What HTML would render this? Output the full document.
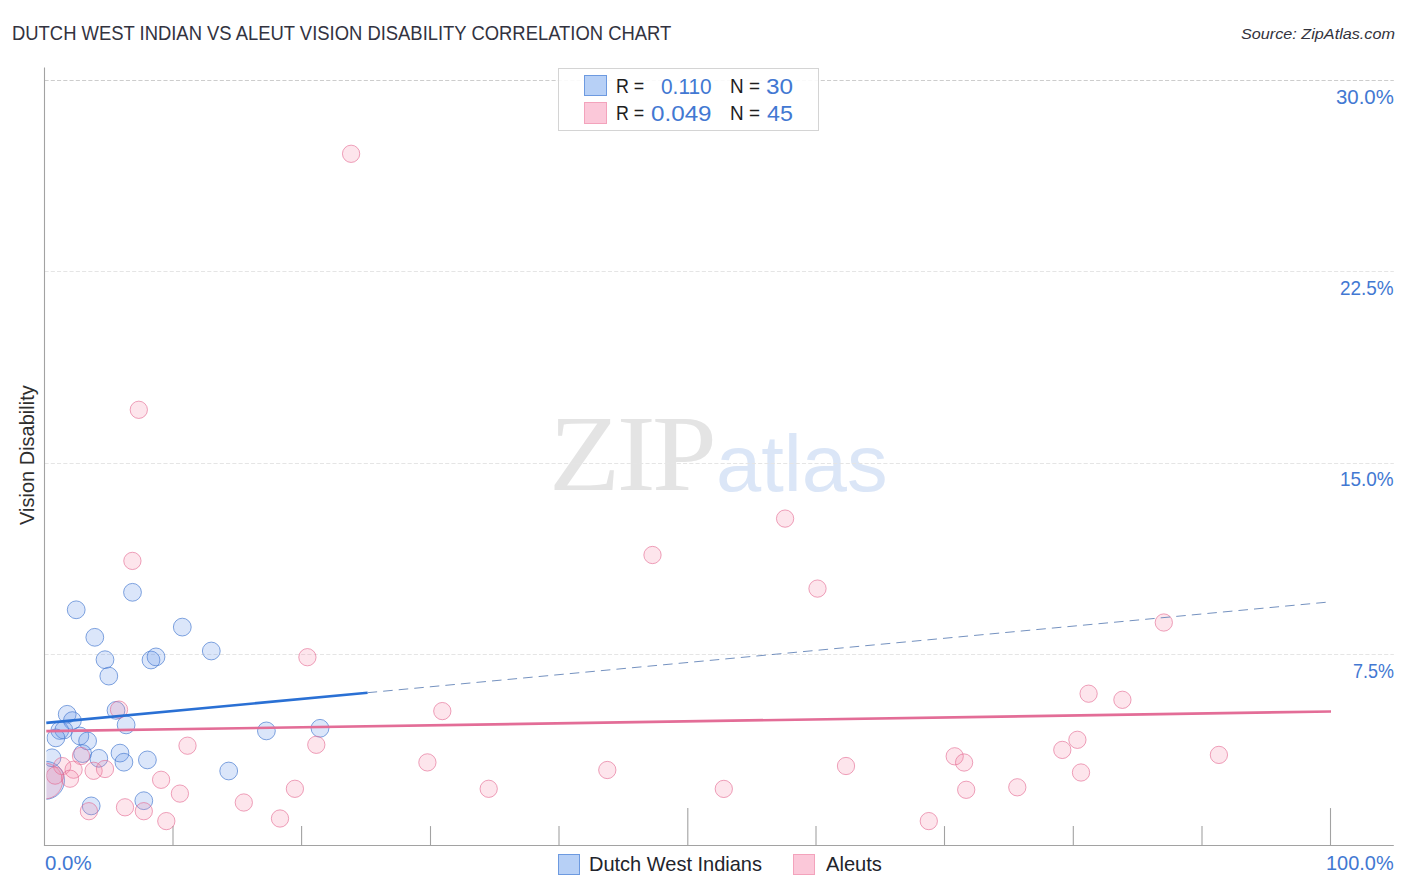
<!DOCTYPE html>
<html><head><meta charset="utf-8"><title>Dutch West Indian vs Aleut Vision Disability Correlation Chart</title>
<style>
html,body{margin:0;padding:0;background:#fff;}
body{width:1406px;height:892px;position:relative;overflow:hidden;font-family:"Liberation Sans",sans-serif;}
.t{position:absolute;white-space:nowrap;line-height:1;transform-origin:0 0;}
svg{position:absolute;left:0;top:0;}
#leg{position:absolute;left:558.1px;top:67.9px;width:261px;height:63px;border:1px solid #d4d4d4;background:rgba(255,255,255,0.9);box-sizing:border-box;}
.sw{position:absolute;box-sizing:border-box;}
.swb{background:#b7d0f6;border:1px solid #6d9ae0;}
.swp{background:#fbc8d9;border:1px solid #f3a3bc;}
</style></head><body>
<div class="t" style="left:548.62px;top:398.93px;font-size:108.98px;font-family:'Liberation Serif',serif;letter-spacing:-0.03em;color:#e4e4e4;transform:scaleX(1.0705)">ZIP</div>
<div class="t" style="left:716.15px;top:423.82px;font-size:79.86px;color:#dbe6f7;transform:scaleX(1.0177)">atlas</div>
<svg width="1406" height="892" viewBox="0 0 1406 892" style="position:absolute;left:0;top:0">
<defs><clipPath id="plot"><rect x="46.4" y="60" width="1348" height="785"/></clipPath></defs>
<line x1="44.5" y1="80.5" x2="1393.8" y2="80.5" stroke="#cdcdcd" stroke-width="1" stroke-dasharray="4.1,2.16"/>
<line x1="44.5" y1="271.5" x2="1393.8" y2="271.5" stroke="#e5e5e5" stroke-width="1" stroke-dasharray="4.1,2.16"/>
<line x1="44.5" y1="463.5" x2="1393.8" y2="463.5" stroke="#e5e5e5" stroke-width="1" stroke-dasharray="4.1,2.16"/>
<line x1="44.5" y1="654.5" x2="1393.8" y2="654.5" stroke="#e5e5e5" stroke-width="1" stroke-dasharray="4.1,2.16"/>
<line x1="44.5" y1="67.6" x2="44.5" y2="845.5" stroke="#a2a2a2" stroke-width="1.1"/>
<line x1="43.9" y1="845.5" x2="1393.8" y2="845.5" stroke="#a2a2a2" stroke-width="1.1"/>
<line x1="173.0" y1="826.1" x2="173.0" y2="845.5" stroke="#a2a2a2" stroke-width="1.1"/>
<line x1="301.6" y1="826.1" x2="301.6" y2="845.5" stroke="#a2a2a2" stroke-width="1.1"/>
<line x1="430.5" y1="826.1" x2="430.5" y2="845.5" stroke="#a2a2a2" stroke-width="1.1"/>
<line x1="559.0" y1="826.1" x2="559.0" y2="845.5" stroke="#a2a2a2" stroke-width="1.1"/>
<line x1="687.8" y1="808.1" x2="687.8" y2="845.5" stroke="#a2a2a2" stroke-width="1.1"/>
<line x1="816.0" y1="826.1" x2="816.0" y2="845.5" stroke="#a2a2a2" stroke-width="1.1"/>
<line x1="944.5" y1="826.1" x2="944.5" y2="845.5" stroke="#a2a2a2" stroke-width="1.1"/>
<line x1="1073.3" y1="826.1" x2="1073.3" y2="845.5" stroke="#a2a2a2" stroke-width="1.1"/>
<line x1="1202.0" y1="826.1" x2="1202.0" y2="845.5" stroke="#a2a2a2" stroke-width="1.1"/>
<line x1="1330.5" y1="808.1" x2="1330.5" y2="845.5" stroke="#a2a2a2" stroke-width="1.1"/>
<g clip-path="url(#plot)">
<circle cx="45.5" cy="780.3" r="19" fill="rgba(100,150,235,0.235)" stroke="rgba(75,125,210,0.70)" stroke-width="1"/>
<circle cx="132.5" cy="592.3" r="8.9" fill="rgba(100,150,235,0.235)" stroke="rgba(75,125,210,0.70)" stroke-width="1"/>
<circle cx="76.2" cy="609.8" r="8.9" fill="rgba(100,150,235,0.235)" stroke="rgba(75,125,210,0.70)" stroke-width="1"/>
<circle cx="94.8" cy="637.3" r="8.9" fill="rgba(100,150,235,0.235)" stroke="rgba(75,125,210,0.70)" stroke-width="1"/>
<circle cx="182.3" cy="627.1" r="8.9" fill="rgba(100,150,235,0.235)" stroke="rgba(75,125,210,0.70)" stroke-width="1"/>
<circle cx="211.3" cy="651.0" r="8.9" fill="rgba(100,150,235,0.235)" stroke="rgba(75,125,210,0.70)" stroke-width="1"/>
<circle cx="105.0" cy="659.7" r="8.9" fill="rgba(100,150,235,0.235)" stroke="rgba(75,125,210,0.70)" stroke-width="1"/>
<circle cx="108.8" cy="676.1" r="8.9" fill="rgba(100,150,235,0.235)" stroke="rgba(75,125,210,0.70)" stroke-width="1"/>
<circle cx="151.0" cy="660.0" r="8.9" fill="rgba(100,150,235,0.235)" stroke="rgba(75,125,210,0.70)" stroke-width="1"/>
<circle cx="156.0" cy="656.9" r="8.9" fill="rgba(100,150,235,0.235)" stroke="rgba(75,125,210,0.70)" stroke-width="1"/>
<circle cx="67.2" cy="714.3" r="8.9" fill="rgba(100,150,235,0.235)" stroke="rgba(75,125,210,0.70)" stroke-width="1"/>
<circle cx="72.4" cy="720.6" r="8.9" fill="rgba(100,150,235,0.235)" stroke="rgba(75,125,210,0.70)" stroke-width="1"/>
<circle cx="116.0" cy="710.4" r="8.9" fill="rgba(100,150,235,0.235)" stroke="rgba(75,125,210,0.70)" stroke-width="1"/>
<circle cx="126.1" cy="724.9" r="8.9" fill="rgba(100,150,235,0.235)" stroke="rgba(75,125,210,0.70)" stroke-width="1"/>
<circle cx="59.8" cy="730.5" r="8.9" fill="rgba(100,150,235,0.235)" stroke="rgba(75,125,210,0.70)" stroke-width="1"/>
<circle cx="63.8" cy="730.0" r="8.9" fill="rgba(100,150,235,0.235)" stroke="rgba(75,125,210,0.70)" stroke-width="1"/>
<circle cx="55.9" cy="737.9" r="8.9" fill="rgba(100,150,235,0.235)" stroke="rgba(75,125,210,0.70)" stroke-width="1"/>
<circle cx="79.9" cy="736.0" r="8.9" fill="rgba(100,150,235,0.235)" stroke="rgba(75,125,210,0.70)" stroke-width="1"/>
<circle cx="87.6" cy="741.0" r="8.9" fill="rgba(100,150,235,0.235)" stroke="rgba(75,125,210,0.70)" stroke-width="1"/>
<circle cx="82.6" cy="753.6" r="8.9" fill="rgba(100,150,235,0.235)" stroke="rgba(75,125,210,0.70)" stroke-width="1"/>
<circle cx="98.8" cy="758.3" r="8.9" fill="rgba(100,150,235,0.235)" stroke="rgba(75,125,210,0.70)" stroke-width="1"/>
<circle cx="120.0" cy="753.1" r="8.9" fill="rgba(100,150,235,0.235)" stroke="rgba(75,125,210,0.70)" stroke-width="1"/>
<circle cx="123.9" cy="762.2" r="8.9" fill="rgba(100,150,235,0.235)" stroke="rgba(75,125,210,0.70)" stroke-width="1"/>
<circle cx="147.4" cy="759.9" r="8.9" fill="rgba(100,150,235,0.235)" stroke="rgba(75,125,210,0.70)" stroke-width="1"/>
<circle cx="52.0" cy="757.8" r="8.9" fill="rgba(100,150,235,0.235)" stroke="rgba(75,125,210,0.70)" stroke-width="1"/>
<circle cx="228.7" cy="771.0" r="8.9" fill="rgba(100,150,235,0.235)" stroke="rgba(75,125,210,0.70)" stroke-width="1"/>
<circle cx="91.2" cy="805.9" r="8.9" fill="rgba(100,150,235,0.235)" stroke="rgba(75,125,210,0.70)" stroke-width="1"/>
<circle cx="143.8" cy="800.7" r="8.9" fill="rgba(100,150,235,0.235)" stroke="rgba(75,125,210,0.70)" stroke-width="1"/>
<circle cx="266.4" cy="730.9" r="8.9" fill="rgba(100,150,235,0.235)" stroke="rgba(75,125,210,0.70)" stroke-width="1"/>
<circle cx="320.0" cy="728.3" r="8.9" fill="rgba(100,150,235,0.235)" stroke="rgba(75,125,210,0.70)" stroke-width="1"/>
<circle cx="44.5" cy="781.0" r="18" fill="rgba(245,130,165,0.21)" stroke="rgba(228,105,145,0.62)" stroke-width="1"/>
<circle cx="351.1" cy="153.8" r="8.65" fill="rgba(245,130,165,0.21)" stroke="rgba(228,105,145,0.62)" stroke-width="1"/>
<circle cx="138.8" cy="409.8" r="8.65" fill="rgba(245,130,165,0.21)" stroke="rgba(228,105,145,0.62)" stroke-width="1"/>
<circle cx="132.4" cy="560.9" r="8.65" fill="rgba(245,130,165,0.21)" stroke="rgba(228,105,145,0.62)" stroke-width="1"/>
<circle cx="307.4" cy="657.2" r="8.65" fill="rgba(245,130,165,0.21)" stroke="rgba(228,105,145,0.62)" stroke-width="1"/>
<circle cx="442.3" cy="711.1" r="8.65" fill="rgba(245,130,165,0.21)" stroke="rgba(228,105,145,0.62)" stroke-width="1"/>
<circle cx="316.3" cy="744.8" r="8.65" fill="rgba(245,130,165,0.21)" stroke="rgba(228,105,145,0.62)" stroke-width="1"/>
<circle cx="427.4" cy="762.4" r="8.65" fill="rgba(245,130,165,0.21)" stroke="rgba(228,105,145,0.62)" stroke-width="1"/>
<circle cx="294.9" cy="788.8" r="8.65" fill="rgba(245,130,165,0.21)" stroke="rgba(228,105,145,0.62)" stroke-width="1"/>
<circle cx="488.7" cy="788.8" r="8.65" fill="rgba(245,130,165,0.21)" stroke="rgba(228,105,145,0.62)" stroke-width="1"/>
<circle cx="243.8" cy="802.5" r="8.65" fill="rgba(245,130,165,0.21)" stroke="rgba(228,105,145,0.62)" stroke-width="1"/>
<circle cx="280.0" cy="818.5" r="8.65" fill="rgba(245,130,165,0.21)" stroke="rgba(228,105,145,0.62)" stroke-width="1"/>
<circle cx="119.0" cy="709.6" r="8.65" fill="rgba(245,130,165,0.21)" stroke="rgba(228,105,145,0.62)" stroke-width="1"/>
<circle cx="187.5" cy="745.7" r="8.65" fill="rgba(245,130,165,0.21)" stroke="rgba(228,105,145,0.62)" stroke-width="1"/>
<circle cx="81.0" cy="756.0" r="8.65" fill="rgba(245,130,165,0.21)" stroke="rgba(228,105,145,0.62)" stroke-width="1"/>
<circle cx="62.2" cy="766.1" r="8.65" fill="rgba(245,130,165,0.21)" stroke="rgba(228,105,145,0.62)" stroke-width="1"/>
<circle cx="73.6" cy="769.7" r="8.65" fill="rgba(245,130,165,0.21)" stroke="rgba(228,105,145,0.62)" stroke-width="1"/>
<circle cx="93.6" cy="770.8" r="8.65" fill="rgba(245,130,165,0.21)" stroke="rgba(228,105,145,0.62)" stroke-width="1"/>
<circle cx="105.0" cy="769.0" r="8.65" fill="rgba(245,130,165,0.21)" stroke="rgba(228,105,145,0.62)" stroke-width="1"/>
<circle cx="70.0" cy="778.7" r="8.65" fill="rgba(245,130,165,0.21)" stroke="rgba(228,105,145,0.62)" stroke-width="1"/>
<circle cx="55.1" cy="775.6" r="8.65" fill="rgba(245,130,165,0.21)" stroke="rgba(228,105,145,0.62)" stroke-width="1"/>
<circle cx="161.1" cy="779.8" r="8.65" fill="rgba(245,130,165,0.21)" stroke="rgba(228,105,145,0.62)" stroke-width="1"/>
<circle cx="179.9" cy="793.6" r="8.65" fill="rgba(245,130,165,0.21)" stroke="rgba(228,105,145,0.62)" stroke-width="1"/>
<circle cx="88.9" cy="811.2" r="8.65" fill="rgba(245,130,165,0.21)" stroke="rgba(228,105,145,0.62)" stroke-width="1"/>
<circle cx="125.0" cy="807.3" r="8.65" fill="rgba(245,130,165,0.21)" stroke="rgba(228,105,145,0.62)" stroke-width="1"/>
<circle cx="143.8" cy="811.2" r="8.65" fill="rgba(245,130,165,0.21)" stroke="rgba(228,105,145,0.62)" stroke-width="1"/>
<circle cx="166.3" cy="821.1" r="8.65" fill="rgba(245,130,165,0.21)" stroke="rgba(228,105,145,0.62)" stroke-width="1"/>
<circle cx="652.5" cy="555.0" r="8.65" fill="rgba(245,130,165,0.21)" stroke="rgba(228,105,145,0.62)" stroke-width="1"/>
<circle cx="785.1" cy="518.6" r="8.65" fill="rgba(245,130,165,0.21)" stroke="rgba(228,105,145,0.62)" stroke-width="1"/>
<circle cx="817.5" cy="588.6" r="8.65" fill="rgba(245,130,165,0.21)" stroke="rgba(228,105,145,0.62)" stroke-width="1"/>
<circle cx="607.3" cy="770.0" r="8.65" fill="rgba(245,130,165,0.21)" stroke="rgba(228,105,145,0.62)" stroke-width="1"/>
<circle cx="723.8" cy="788.9" r="8.65" fill="rgba(245,130,165,0.21)" stroke="rgba(228,105,145,0.62)" stroke-width="1"/>
<circle cx="846.0" cy="766.0" r="8.65" fill="rgba(245,130,165,0.21)" stroke="rgba(228,105,145,0.62)" stroke-width="1"/>
<circle cx="1163.8" cy="622.5" r="8.65" fill="rgba(245,130,165,0.21)" stroke="rgba(228,105,145,0.62)" stroke-width="1"/>
<circle cx="1088.6" cy="693.7" r="8.65" fill="rgba(245,130,165,0.21)" stroke="rgba(228,105,145,0.62)" stroke-width="1"/>
<circle cx="1122.4" cy="699.8" r="8.65" fill="rgba(245,130,165,0.21)" stroke="rgba(228,105,145,0.62)" stroke-width="1"/>
<circle cx="1077.4" cy="739.8" r="8.65" fill="rgba(245,130,165,0.21)" stroke="rgba(228,105,145,0.62)" stroke-width="1"/>
<circle cx="1062.3" cy="749.9" r="8.65" fill="rgba(245,130,165,0.21)" stroke="rgba(228,105,145,0.62)" stroke-width="1"/>
<circle cx="1081.0" cy="772.5" r="8.65" fill="rgba(245,130,165,0.21)" stroke="rgba(228,105,145,0.62)" stroke-width="1"/>
<circle cx="954.7" cy="756.3" r="8.65" fill="rgba(245,130,165,0.21)" stroke="rgba(228,105,145,0.62)" stroke-width="1"/>
<circle cx="964.1" cy="762.5" r="8.65" fill="rgba(245,130,165,0.21)" stroke="rgba(228,105,145,0.62)" stroke-width="1"/>
<circle cx="966.2" cy="789.8" r="8.65" fill="rgba(245,130,165,0.21)" stroke="rgba(228,105,145,0.62)" stroke-width="1"/>
<circle cx="1017.3" cy="787.3" r="8.65" fill="rgba(245,130,165,0.21)" stroke="rgba(228,105,145,0.62)" stroke-width="1"/>
<circle cx="928.8" cy="821.1" r="8.65" fill="rgba(245,130,165,0.21)" stroke="rgba(228,105,145,0.62)" stroke-width="1"/>
<circle cx="1218.9" cy="754.9" r="8.65" fill="rgba(245,130,165,0.21)" stroke="rgba(228,105,145,0.62)" stroke-width="1"/>
</g>
<line x1="46.3" y1="731.2" x2="1331" y2="711.5" stroke="#e36d97" stroke-width="2.7"/>
<line x1="46.3" y1="722.9" x2="367.6" y2="692.7" stroke="#2a70d4" stroke-width="2.6"/>
<line x1="367.6" y1="692.7" x2="1325.7" y2="602.3" stroke="#6484b8" stroke-width="0.9" stroke-dasharray="9.55,6.07"/>
</svg>
<div id="leg"></div>
<div class="sw swb" style="left:584.2px;top:75.3px;width:22.6px;height:20.4px"></div>
<div class="sw swp" style="left:584.2px;top:102.2px;width:22.6px;height:21.6px"></div>
<div class="sw swb" style="left:557.9px;top:853.7px;width:22.4px;height:21px"></div>
<div class="sw swp" style="left:793px;top:853.7px;width:22.2px;height:21px"></div>
<div class="t" style="left:12.04px;top:23.57px;font-size:19.51px;color:#33333f;transform:scaleX(0.9443)">DUTCH WEST INDIAN VS ALEUT VISION DISABILITY CORRELATION CHART</div>
<div class="t" style="left:1240.59px;top:25.51px;font-size:15.04px;font-style:italic;color:#33333d;transform:scaleX(1.0779)">Source: ZipAtlas.com</div>
<div class="t" style="left:1336.23px;top:87.93px;font-size:19.79px;color:#4278d2;transform:scaleX(1.0317)">30.0%</div>
<div class="t" style="left:1339.75px;top:278.68px;font-size:19.79px;color:#4278d2;transform:scaleX(0.9574)">22.5%</div>
<div class="t" style="left:1340.28px;top:470.48px;font-size:19.79px;color:#4278d2;transform:scaleX(0.9569)">15.0%</div>
<div class="t" style="left:1352.95px;top:661.93px;font-size:19.79px;color:#4278d2;transform:scaleX(0.9073)">7.5%</div>
<div class="t" style="left:45.38px;top:854.3px;font-size:19.65px;color:#4278d2;transform:scaleX(1.042)">0.0%</div>
<div class="t" style="left:1326.2px;top:854.3px;font-size:19.65px;color:#4278d2;transform:scaleX(1.0155)">100.0%</div>
<div class="t" style="left:616.24px;top:76.88px;font-size:19.49px;color:#1e1e1e;transform:scaleX(0.9164)">R =</div>
<div class="t" style="left:660.72px;top:75.91px;font-size:22.46px;color:#4278d2;transform:scaleX(0.9285)">0.110</div>
<div class="t" style="left:729.65px;top:76.88px;font-size:19.49px;color:#1e1e1e;transform:scaleX(0.9695)">N =</div>
<div class="t" style="left:765.99px;top:75.91px;font-size:22.46px;color:#4278d2;transform:scaleX(1.0816)">30</div>
<div class="t" style="left:616.24px;top:103.88px;font-size:19.49px;color:#1e1e1e;transform:scaleX(0.9164)">R =</div>
<div class="t" style="left:651.39px;top:102.91px;font-size:22.46px;color:#4278d2;transform:scaleX(1.078)">0.049</div>
<div class="t" style="left:729.65px;top:103.88px;font-size:19.49px;color:#1e1e1e;transform:scaleX(0.9695)">N =</div>
<div class="t" style="left:767.22px;top:102.86px;font-size:22.29px;color:#4278d2;transform:scaleX(1.0427)">45</div>
<div class="t" style="left:588.9px;top:855.3px;font-size:19.53px;color:#22242c;transform:scaleX(1.0243)">Dutch West Indians</div>
<div class="t" style="left:826.05px;top:855.3px;font-size:19.53px;color:#22242c;transform:scaleX(1.0309)">Aleuts</div>
<div class="t" style="left:17.34px;top:525.25px;font-size:20.05px;color:#2e2e2e;transform:rotate(-90deg) scaleX(0.9991)">Vision Disability</div>
</body></html>
